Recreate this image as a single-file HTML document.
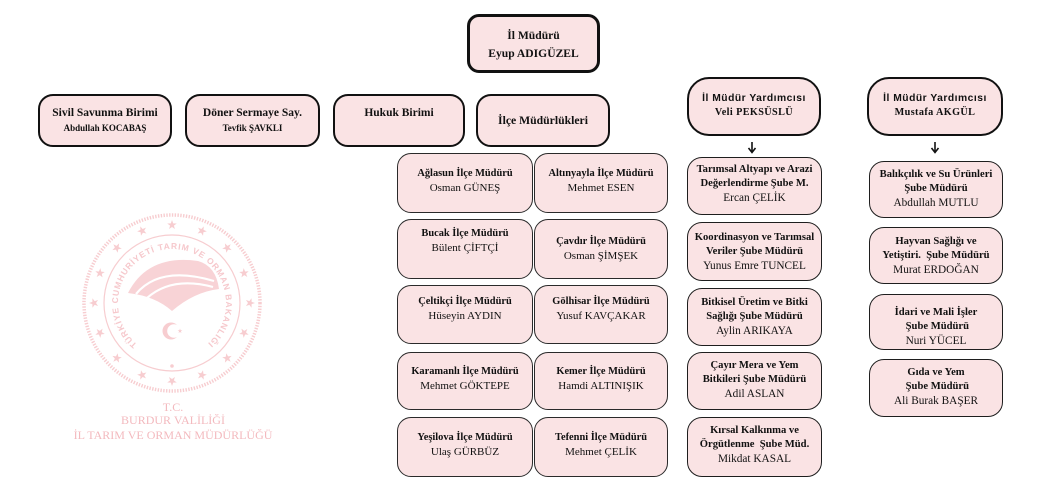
<!DOCTYPE html>
<html><head><meta charset="utf-8">
<style>
html,body{margin:0;padding:0;background:#fff;}
#c{position:relative;width:1040px;height:500px;overflow:hidden;background:#fff;}
.b{position:absolute;box-sizing:border-box;background:#fae3e4;text-align:center;font-family:"Liberation Serif",serif;color:#111;white-space:nowrap;font-size:10px;line-height:14px;}
.b div{white-space:pre;}
.g{border:1px solid #2a2a2a;border-radius:14px;}
.g .t{font-weight:bold;font-size:10.4px;line-height:14px;height:14px;}
.g .n{font-size:11px;line-height:14px;height:14px;}
.r{border:1.5px solid #1e1e1e;border-radius:15px;}
.r .t{font-weight:bold;font-size:10.6px;line-height:14px;height:14px;}
.r .n{font-size:11.3px;line-height:14px;height:14px;}
.top{border:2px solid #111;border-radius:15px;}
.top .t{font-weight:bold;font-size:11.5px;line-height:15px;height:15px;}
.top .n{font-weight:bold;font-size:9px;line-height:15px;height:15px;}
.y{border:2px solid #111;border-radius:22px;}
.y .a{font-family:"Liberation Sans",sans-serif;font-weight:bold;font-size:10.3px;letter-spacing:0.5px;line-height:14px;height:14px;}
.y .v{font-weight:bold;font-size:10.2px;letter-spacing:0.4px;line-height:14px;height:14px;}
.wm{position:absolute;left:0;width:346px;text-align:center;font-family:"Liberation Serif",serif;font-size:12px;color:#f3b9be;line-height:14px;}
</style></head><body><div id="c">

<svg width="1040" height="500" style="position:absolute;left:0;top:0">
<defs><polygon id="s" points="0,-5 1.18,-1.62 4.76,-1.55 1.9,0.62 2.94,4.05 0,2 -2.94,4.05 -1.9,0.62 -4.76,-1.55 -1.18,-1.62"/></defs>
<g fill="#f7cdd0" stroke="none">
<circle cx="172" cy="303" r="88" fill="none" stroke="#f7cdd0" stroke-width="3.5" stroke-dasharray="1.4 1.4"/>
<circle cx="172" cy="303" r="68" fill="none" stroke="#f7cdd0" stroke-width="1.2"/>
<use href="#s" x="172" y="225" transform="rotate(0 172 303)"/>
<use href="#s" x="172" y="225" transform="rotate(22.5 172 303)"/>
<use href="#s" x="172" y="225" transform="rotate(45 172 303)"/>
<use href="#s" x="172" y="225" transform="rotate(67.5 172 303)"/>
<use href="#s" x="172" y="225" transform="rotate(90 172 303)"/>
<use href="#s" x="172" y="225" transform="rotate(112.5 172 303)"/>
<use href="#s" x="172" y="225" transform="rotate(135 172 303)"/>
<use href="#s" x="172" y="225" transform="rotate(157.5 172 303)"/>
<use href="#s" x="172" y="225" transform="rotate(180 172 303)"/>
<use href="#s" x="172" y="225" transform="rotate(202.5 172 303)"/>
<use href="#s" x="172" y="225" transform="rotate(225 172 303)"/>
<use href="#s" x="172" y="225" transform="rotate(247.5 172 303)"/>
<use href="#s" x="172" y="225" transform="rotate(270 172 303)"/>
<use href="#s" x="172" y="225" transform="rotate(292.5 172 303)"/>
<use href="#s" x="172" y="225" transform="rotate(315 172 303)"/>
<use href="#s" x="172" y="225" transform="rotate(337.5 172 303)"/>
<path id="ring" d="M137.3,344.4 A54,54 0 1,1 206.7,344.4" fill="none"/>
<text font-family="Liberation Sans,sans-serif" font-size="8.5" font-weight="bold" fill="#f6c8cc"><textPath href="#ring" textLength="262" lengthAdjust="spacing">TÜRKİYE CUMHURİYETİ TARIM VE ORMAN BAKANLIĞI</textPath></text>
<path d="M128,293 Q148,254 198,261 Q216,266 219,289 Q194,292 172,311 Q155,296 128,293 Z" fill="#f8d3d6"/>
<path d="M136,294 Q160,265 214,281" fill="none" stroke="#fff" stroke-width="2.2"/>
<path d="M147,298 Q172,276 213,287" fill="none" stroke="#fff" stroke-width="2.2"/>
<circle cx="171" cy="331" r="8.5" fill="#f7cdd0"/>
<circle cx="174" cy="331" r="6.8" fill="#fff"/>
<use href="#s" x="0" y="0" transform="translate(180 331) scale(0.5)"/>
<circle cx="172" cy="366" r="1.8"/>
</g>
<g stroke="#111" stroke-width="1.6" fill="none">
<line x1="752" y1="142" x2="752" y2="152"/>
<polyline points="748.5,148 752,152.5 755.5,148"/>
<line x1="935" y1="142" x2="935" y2="152"/>
<polyline points="931.5,148 935,152.5 938.5,148"/>
</g>
</svg>

<div class="wm" style="top:400px">T.C.</div>
<div class="wm" style="top:413px">BURDUR VALİLİĞİ</div>
<div class="wm" style="top:428px">İL TARIM VE ORMAN MÜDÜRLÜĞÜ</div>

<!-- main -->
<div class="b" style="left:467px;top:14px;width:133px;height:59px;border:3px solid #111;border-radius:12px;padding-top:10px;font-weight:bold;font-size:11.6px;line-height:18px;"><div>İl Müdürü</div><div>Eyup ADIGÜZEL</div></div>

<!-- top row -->
<div class="b top" style="left:38px;top:94px;width:134px;height:53px;padding-top:10px;"><div class="t">Sivil Savunma Birimi</div><div class="n">Abdullah KOCABAŞ</div></div>
<div class="b top" style="left:185px;top:94px;width:135px;height:53px;padding-top:10px;"><div class="t">Döner Sermaye Say.</div><div class="n">Tevfik ŞAVKLI</div></div>
<div class="b top" style="left:333px;top:94px;width:132px;height:53px;padding-top:10px;"><div class="t">Hukuk Birimi</div></div>
<div class="b top" style="left:476px;top:94px;width:134px;height:53px;padding-top:17px;"><div class="t" style="font-size:11.7px">İlçe Müdürlükleri</div></div>

<!-- yardimci -->
<div class="b y" style="left:687px;top:77px;width:134px;height:59px;padding-top:13px;"><div class="a">İl Müdür Yardımcısı</div><div class="v">Veli PEKSÜSLÜ</div></div>
<div class="b y" style="left:867px;top:77px;width:136px;height:59px;padding-top:13px;"><div class="a">İl Müdür Yardımcısı</div><div class="v">Mustafa AKGÜL</div></div>

<!-- ilce grid -->
<div class="b g" style="left:397px;top:153px;width:136px;height:60px;padding-top:13px;"><div class="t">Ağlasun İlçe Müdürü</div><div class="n">Osman GÜNEŞ</div></div>
<div class="b g" style="left:534px;top:153px;width:134px;height:60px;padding-top:13px;"><div class="t">Altınyayla İlçe Müdürü</div><div class="n">Mehmet ESEN</div></div>
<div class="b g" style="left:397px;top:219px;width:136px;height:60px;padding-top:7px;"><div class="t">Bucak İlçe Müdürü</div><div class="n">Bülent ÇİFTÇİ</div></div>
<div class="b g" style="left:534px;top:219px;width:134px;height:60px;padding-top:15px;"><div class="t">Çavdır İlçe Müdürü</div><div class="n">Osman ŞİMŞEK</div></div>
<div class="b g" style="left:397px;top:285px;width:136px;height:59px;padding-top:9px;"><div class="t">Çeltikçi İlçe Müdürü</div><div class="n">Hüseyin AYDIN</div></div>
<div class="b g" style="left:534px;top:285px;width:134px;height:59px;padding-top:9px;"><div class="t">Gölhisar İlçe Müdürü</div><div class="n">Yusuf KAVÇAKAR</div></div>
<div class="b g" style="left:397px;top:352px;width:136px;height:58px;padding-top:12px;"><div class="t">Karamanlı İlçe Müdürü</div><div class="n">Mehmet GÖKTEPE</div></div>
<div class="b g" style="left:534px;top:352px;width:134px;height:58px;padding-top:12px;"><div class="t">Kemer İlçe Müdürü</div><div class="n">Hamdi ALTINIŞIK</div></div>
<div class="b g" style="left:397px;top:417px;width:136px;height:60px;padding-top:13px;"><div class="t">Yeşilova İlçe Müdürü</div><div class="n">Ulaş GÜRBÜZ</div></div>
<div class="b g" style="left:534px;top:417px;width:134px;height:60px;padding-top:13px;"><div class="t">Tefenni İlçe Müdürü</div><div class="n">Mehmet ÇELİK</div></div>

<!-- right col 1 -->
<div class="b r" style="left:687px;top:157px;width:135px;height:58px;padding-top:5px;"><div class="t">Tarımsal Altyapı ve Arazi</div><div class="t">Değerlendirme Şube M.</div><div class="n">Ercan ÇELİK</div></div>
<div class="b r" style="left:687px;top:222px;width:135px;height:59px;padding-top:8px;"><div class="t">Koordinasyon ve Tarımsal</div><div class="t">Veriler Şube Müdürü</div><div class="n">Yunus Emre TUNCEL</div></div>
<div class="b r" style="left:687px;top:288px;width:135px;height:58px;padding-top:7px;"><div class="t">Bitkisel Üretim ve Bitki</div><div class="t">Sağlığı Şube Müdürü</div><div class="n">Aylin ARIKAYA</div></div>
<div class="b r" style="left:687px;top:352px;width:135px;height:58px;padding-top:6px;"><div class="t">Çayır Mera ve Yem</div><div class="t">Bitkileri Şube Müdürü</div><div class="n">Adil ASLAN</div></div>
<div class="b r" style="left:687px;top:417px;width:135px;height:60px;padding-top:6px;"><div class="t">Kırsal Kalkınma ve</div><div class="t">Örgütlenme  Şube Müd.</div><div class="n">Mikdat KASAL</div></div>

<!-- right col 2 -->
<div class="b r" style="left:869px;top:161px;width:134px;height:57px;padding-top:6px;"><div class="t">Balıkçılık ve Su Ürünleri</div><div class="t">Şube Müdürü</div><div class="n">Abdullah MUTLU</div></div>
<div class="b r" style="left:869px;top:227px;width:134px;height:57px;padding-top:7px;"><div class="t">Hayvan Sağlığı ve</div><div class="t">Yetiştiri.  Şube Müdürü</div><div class="n">Murat ERDOĞAN</div></div>
<div class="b r" style="left:869px;top:294px;width:134px;height:56px;padding-top:11px;"><div class="t">İdari ve Mali İşler</div><div class="t"> Şube Müdürü</div><div class="n">Nuri YÜCEL</div></div>
<div class="b r" style="left:869px;top:359px;width:134px;height:58px;padding-top:6px;"><div class="t">Gıda ve Yem</div><div class="t"> Şube Müdürü</div><div class="n">Ali Burak BAŞER</div></div>

</div></body></html>
